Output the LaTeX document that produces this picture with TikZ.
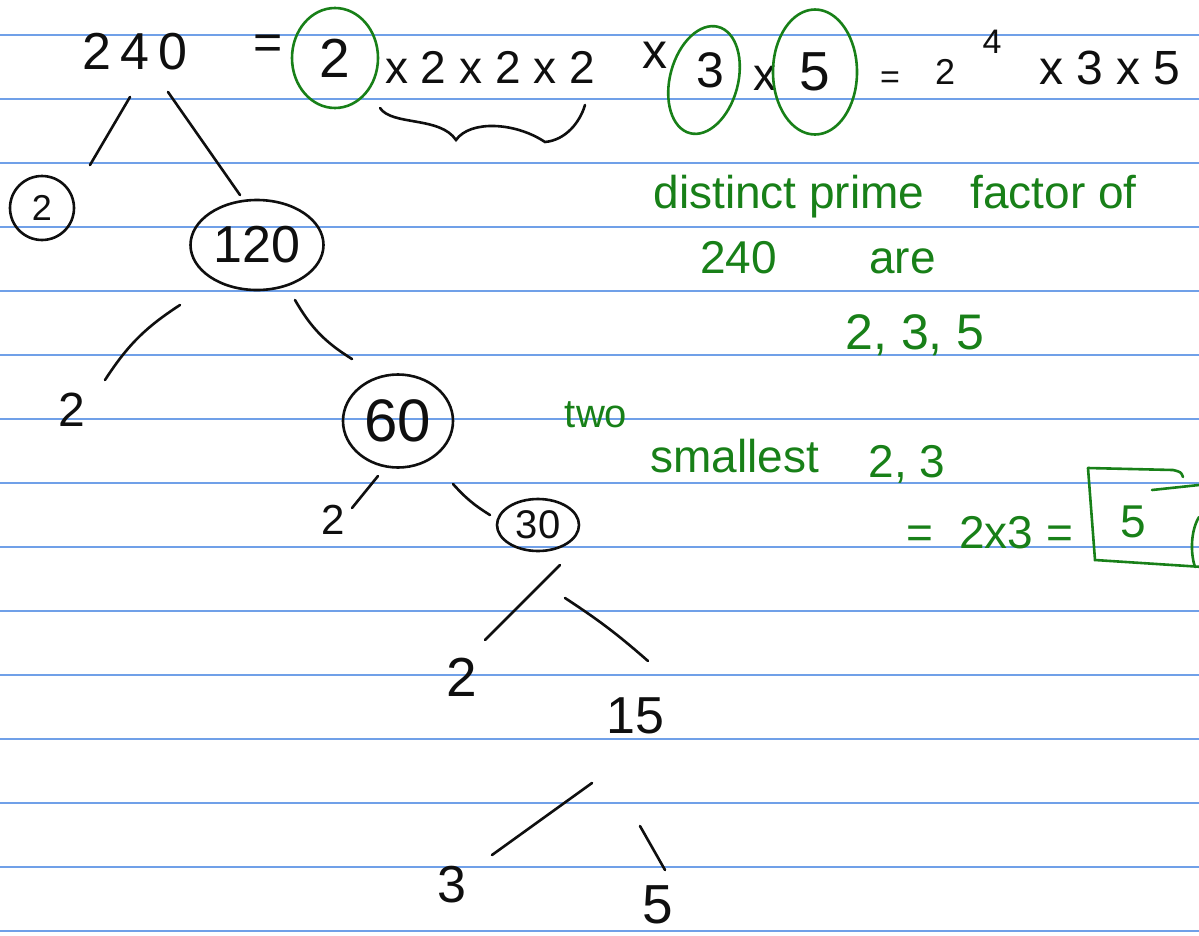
\documentclass[tikz,border=0pt]{standalone}
\usepackage{fontspec}
\setmainfont{Liberation Sans}
\usetikzlibrary{shapes.geometric}
\definecolor{rulecol}{RGB}{112,160,232}
\definecolor{ink}{RGB}{15,15,15}
\definecolor{gink}{RGB}{24,128,24}
\tikzset{
  pen/.style={draw=ink, line width=2.6pt, line cap=round},
  gpen/.style={draw=gink, line width=2.6pt, line cap=round},
  num/.style={text=ink, inner sep=0pt, font=\fontsize{#1}{#1}\selectfont},
  num/.default=52,
  gnote/.style={text=gink, inner sep=0pt, font=\fontsize{#1}{#1}\selectfont},
  gnote/.default=46,
  ring/.style={ellipse, draw=ink, line width=2.6pt},
  gring/.style={ellipse, draw=gink, line width=2.6pt},
}

\begin{document}
\begin{tikzpicture}[x=1pt, y=-1pt]
  \useasboundingbox (0,0) rectangle (1199,935);
  % ruled paper
  \foreach \y in {35,99,...,931}
    \draw[rulecol, line width=1.3pt] (0,\y) -- (1199,\y);

  % top line: 240 = 2x2x2x2x3x5 = 2^4 x3x5
  \node[num] (n240) at (135,52) {2\,4\,0};
  \node[num=50] (eqa) at (268,47) {=};
  \node[num=55, gring, minimum width=86pt, minimum height=100pt] (t2) at (335,58) {2};
  \node[num=46] (trow) at (490,67) {x 2 x 2 x 2};
  \node[num=50] (tx) at (655,55) {x};
  \node[num=50] (t3) at (710,70) {3};
  \node[num=46] (tx2) at (765,78) {x};
  \node[num=55, gring, minimum width=84pt, minimum height=125pt] (t5) at (815,72) {5};
  \node[num=34] (eqb) at (890,80) {=};
  \node[num=36] (tp2) at (945,72) {2};
  \node[num=34] (tp4) at (992,42) {4};
  \node[num=48] (trest) at (1110,68) {x 3 x 5};
  % ring round the 3
  \coordinate (t3c) at ([shift={(-6,10)}]t3.center);
  \draw[gpen, rotate around={-15:(t3c)}] (t3c) ellipse [x radius=34, y radius=55];
  % brace under the three 2s
  \draw[pen] (380,108) .. controls (392,126) and (440,116) .. (456,140)
    .. controls (470,120) and (515,122) .. (545,142)
    .. controls (566,140) and (580,122) .. (585,105);

  % factor tree
  \node[num=36, circle, draw=ink, line width=2.6pt, minimum size=64pt] (c2) at (42,208) {2};
  \node[num, ring, minimum width=133pt, minimum height=90pt] (n120) at (257,245) {120};
  \node[num=48] (n2a) at (72,410) {2};
  \node[num=60, ring, minimum width=110pt, minimum height=93pt] (n60) at (398,421) {60};
  \node[num=42] (n2b) at (333,520) {2};
  \node[num=40, ring, minimum width=82pt, minimum height=52pt] (n30) at (538,525) {30};
  \node[num=55] (n2c) at (462,677) {2};
  \node[num] (n15) at (635,716) {15};
  \node[num] (n3) at (452,885) {3};
  \node[num=55] (n5) at (658,905) {5};
  \foreach \a/\ax/\ay/\b/\bx/\by/\bend in {
      n240/-5/45/c2/48/-43/0,
      n240/33/40/n120/-17/-50/0,
      n120/-77/60/n2a/33/-30/-12,
      n120/38/55/n60/-46/-62/-14,
      n60/-20/55/n2b/19/-12/0,
      n60/55/63/n30/-48/-10/-8,
      n30/22/40/n2c/23/-37/0,
      n30/27/73/n15/13/-55/4,
      n15/-43/67/n3/40/-30/0,
      n15/5/110/n5/7/-35/0}
    \draw[pen] ([shift={(\ax,\ay)}]\a.center) to[bend left=\bend] ([shift={(\bx,\by)}]\b.center);

  % green notes
  \node[gnote] (g1) at (895,197) {distinct prime\quad factor of};
  \node[gnote] (g2) at (818,258) {240\qquad are};
  \node[gnote=50] (g3) at (915,335) {2,\ 3,\ 5};
  \node[gnote=40] (g4) at (596,415) {two};
  \node[gnote=46] (g5) at (735,456) {smallest};
  \node[gnote=46] (g6) at (907,464) {2,\ 3};
  \node[gnote] (g7) at (990,533) {=\ \ 2x3\ =};
  \node[gnote] (g8) at (1133,522) {5};
  % box round the answer
  \draw[gpen] ([shift={(-45,-54)}]g8.center) -- ([shift={(40,-52)}]g8.center)
    .. controls ([shift={(48,-50)}]g8.center) .. ([shift={(50,-45)}]g8.center);
  \draw[gpen] ([shift={(19,-32)}]g8.center) -- ([shift={(66,-37)}]g8.center);
  \draw[gpen] ([shift={(-45,-54)}]g8.center) -- ([shift={(-38,38)}]g8.center)
    -- ([shift={(70,45)}]g8.center);
  \draw[gpen] ([shift={(66,-5)}]g8.center) .. controls ([shift={(58,8)}]g8.center)
    and ([shift={(57,30)}]g8.center) .. ([shift={(62,45)}]g8.center);
\end{tikzpicture}
\end{document}
